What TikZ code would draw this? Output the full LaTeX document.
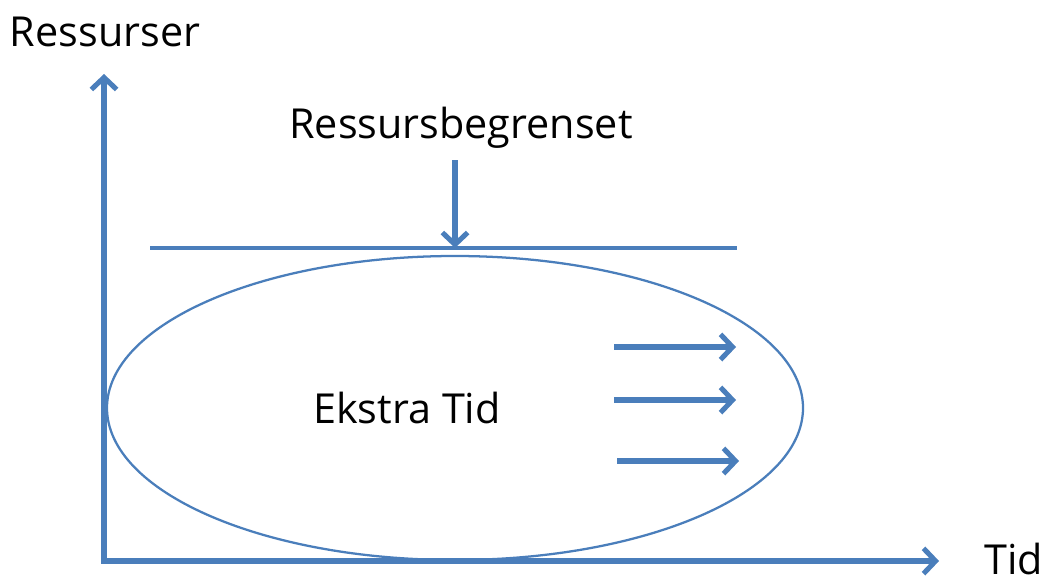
\documentclass[tikz,border=0pt]{standalone}
\usepackage{fontspec}
\setmainfont{Open Sans}
\usetikzlibrary{arrows.meta,shapes.geometric}
\definecolor{axisblue}{HTML}{4A7EBB}
\begin{document}
\begin{tikzpicture}[x=0.75pt,y=-0.75pt,
  thickline/.style={draw=axisblue,line width=4pt,-{Straight Barb[length=9pt,width=19pt,line width=3.8pt]}},
  label/.style={font=\fontsize{31}{36}\selectfont,text=black,inner sep=0pt}]
  \useasboundingbox (0,0) rectangle (1049,585);
  % axes
  \coordinate (origin) at (104,561);
  \coordinate (ytop) at (104,74);
  \coordinate (xend) at (939,561);
  \draw[thickline] (origin) -- (ytop);
  \draw[thickline] ([xshift=-2pt]origin) -- (xend);
  \node[label] (ylab) at (105,32) {Ressurser};
  \node[label,anchor=west] (xlab) at (984,559) {Tid};
  % resource limit
  \node[label] (limit) at (461,128) {Ressursbegrenset};
  \coordinate (lineL) at (150,248);
  \coordinate (lineR) at (737,248);
  \draw[draw=axisblue,line width=3.4pt] (lineL) -- (lineR);
  \coordinate (dtop) at (455,160);
  \coordinate (dbot) at (455,248);
  \draw[thickline] (dtop) -- (dbot);
  % extra time region
  \node[draw=axisblue,line width=1.7pt,ellipse,minimum width=522pt,minimum height=228pt,inner sep=0pt] (region) at (455,408) {};
  \node[label] (extra) at (407,408) {Ekstra Tid};
  \coordinate (a1s) at (614,347); \coordinate (a1e) at (736,347);
  \coordinate (a2s) at (614,400); \coordinate (a2e) at (736,400);
  \coordinate (a3s) at (617,461); \coordinate (a3e) at (739,461);
  \draw[thickline] (a1s) -- (a1e);
  \draw[thickline] (a2s) -- (a2e);
  \draw[thickline] (a3s) -- (a3e);
\end{tikzpicture}
\end{document}
